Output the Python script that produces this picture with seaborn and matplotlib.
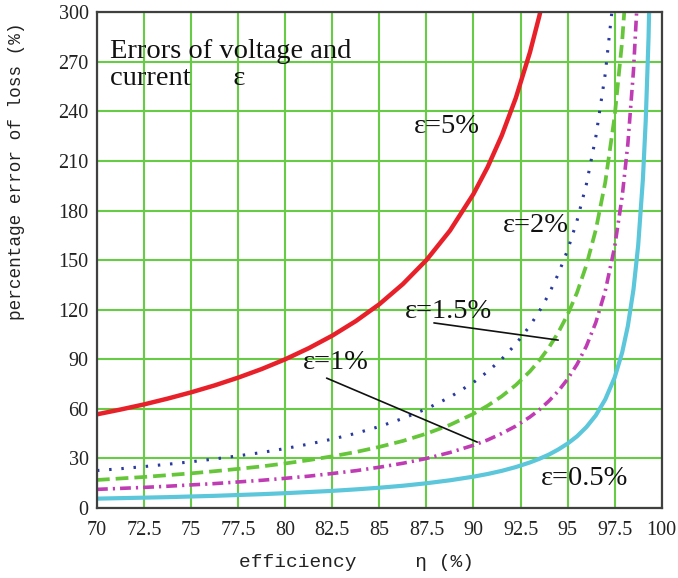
import numpy as np
import pandas as pd
import matplotlib
matplotlib.use("Agg")
import matplotlib.pyplot as plt
import seaborn as sns

# Efficiency (%) at which the loss error was evaluated
efficiency = [70, 71.25, 72.5, 73.75, 75, 76.25, 77.5, 78.75, 80, 81.25, 82.5, 83.75,
              85, 86.25, 87.5, 88.75, 90,
              90.75, 91.5, 92.25, 93, 93.5, 94, 94.5, 95, 95.5, 96, 96.5, 97, 97.5,
              97.9, 98.2, 98.5, 98.75, 99, 99.15, 99.3, 99.45, 99.6]

# Percentage error of loss for each voltage/current error level
err_5 = [56.7, 59.6, 62.7, 66.2, 70.0, 74.2, 78.9, 84.1, 90.0, 96.7, 104.3, 113.1,
         123.3, 135.5, 150.0, 167.8, 190.0,
         206.2, 225.3, 248.1, 275.7, 297.7, 323.3, 353.6, 390, 434, 490, 561, 657, 790,
         942, 1101, 1323, 1590, 1990, 2343, 2847, 3626, 4990]
err_2 = [22.7, 23.8, 25.1, 26.5, 28.0, 29.7, 31.6, 33.6, 36.0, 38.7, 41.7, 45.2,
         49.3, 54.2, 60.0, 67.1, 76.0,
         82.5, 90.1, 99.2, 110.3, 119.1, 129.3, 141.5, 156.0, 173.8, 196.0, 224.6, 262.7, 316.0,
         377, 440, 529, 636, 796, 937, 1139, 1451, 1996]
err_15 = [17.0, 17.9, 18.8, 19.9, 21.0, 22.3, 23.7, 25.2, 27.0, 29.0, 31.3, 33.9,
          37.0, 40.6, 45.0, 50.3, 57.0,
          61.9, 67.6, 74.4, 82.7, 89.3, 97.0, 106.1, 117.0, 130.3, 147.0, 168.4, 197.0, 237.0,
          282.7, 330.3, 397, 477, 597, 703, 854, 1088, 1497]
err_1 = [11.3, 11.9, 12.5, 13.2, 14.0, 14.8, 15.8, 16.8, 18.0, 19.3, 20.9, 22.6,
         24.7, 27.1, 30.0, 33.6, 38.0,
         41.2, 45.1, 49.6, 55.1, 59.5, 64.7, 70.7, 78.0, 86.9, 98.0, 112.3, 131.3, 158.0,
         188.5, 220.2, 264.7, 318.0, 398, 469, 569, 725, 998]
err_05 = [5.7, 6.0, 6.3, 6.6, 7.0, 7.4, 7.9, 8.4, 9.0, 9.7, 10.4, 11.3,
          12.3, 13.5, 15.0, 16.8, 19.0,
          20.6, 22.5, 24.8, 27.6, 29.8, 32.3, 35.4, 39.0, 43.4, 49.0, 56.1, 65.7, 79.0,
          94.2, 110.1, 132.3, 159.0, 199.0, 234.3, 284.7, 362.6, 499]

x_ticks = [70, 72.5, 75, 77.5, 80, 82.5, 85, 87.5, 90, 92.5, 95, 97.5, 100]
x_tick_labels = ["70", "72.5", "75", "77.5", "80", "82.5", "85", "87.5", "90",
                 "92.5", "95", "97.5", "100"]
y_ticks = [0, 30, 60, 90, 120, 150, 180, 210, 240, 270, 300]

sns.set_style("white")
plt.rcParams["font.family"] = ["Liberation Serif", "DejaVu Serif"]

fig = plt.figure(figsize=(6.78, 5.78), dpi=100)
ax = fig.add_axes([0.143, 0.121, 0.833, 0.858])

grid_color = "#66cc44"
for xv in x_ticks:
    ax.axvline(xv, color=grid_color, lw=1.5, zorder=1)
for yv in y_ticks:
    ax.axhline(yv, color=grid_color, lw=1.5, zorder=1)

df = pd.DataFrame({"eta": efficiency, "e5": err_5, "e2": err_2,
                   "e15": err_15, "e1": err_1, "e05": err_05})

styles = [
    ("e05", "#5cc6da", "-", 3.0),
    ("e1", "#c03cb4", (0, (3.0, 1.4, 0.6, 1.4)), 2.6),
    ("e15", "#66c63a", (0, (3.4, 1.6)), 2.7),
    ("e2", "#2a3a9e", (0, (0.8, 3.2)), 2.2),
    ("e5", "#e8202a", "-", 3.2),
]
for col, color, ls, lw in styles:
    sns.lineplot(data=df, x="eta", y=col, ax=ax, color=color, lw=lw,
                 linestyle=ls, zorder=3, sort=False)

ax.set_xlim(70, 100)
ax.set_ylim(0, 300)
ax.set_xticks(x_ticks)
ax.set_xticklabels(x_tick_labels)
ax.set_yticks(y_ticks)
ax.tick_params(axis="both", length=0, labelsize=14.5, colors="#222222")
ax.tick_params(axis="x", pad=9)
ax.tick_params(axis="y", pad=6)

for s in ax.spines.values():
    s.set_color("#404040")
    s.set_linewidth(1.6)
    s.set_zorder(5)

mono = ["Liberation Mono", "DejaVu Sans Mono"]
ax.set_xlabel("efficiency     \u03b7 (%)", family=mono, fontsize=14,
              color="#222222")
ax.set_ylabel("percentage error of loss (%)", family=mono, fontsize=12.8,
              color="#222222")
ax.xaxis.set_label_coords(0.46, -0.092)
ax.yaxis.set_label_coords(-0.127, 0.68)

txt = dict(fontsize=20.5, color="#111111", zorder=6)
ax.text(70.7, 284, "Errors of voltage and\ncurrent      \u03b5", va="top", ha="left",
        linespacing=1.15, **txt)
ax.text(88.6, 231, "\u03b5=5%", ha="center", va="center", **txt)
ax.text(93.3, 171, "\u03b5=2%", ha="center", va="center", **txt)
ax.text(88.7, 119, "\u03b5=1.5%", ha="center", va="center", **txt)
ax.text(82.7, 88, "\u03b5=1%", ha="center", va="center", **txt)
ax.text(95.9, 18, "\u03b5=0.5%", ha="center", va="center", **txt)

ax.plot([87.9, 94.5], [112, 101.6], color="#111111", lw=1.2, zorder=6)
ax.plot([82.2, 90.2], [78.6, 39.9], color="#111111", lw=1.2, zorder=6)

fig.savefig("out.png", dpi=100)
